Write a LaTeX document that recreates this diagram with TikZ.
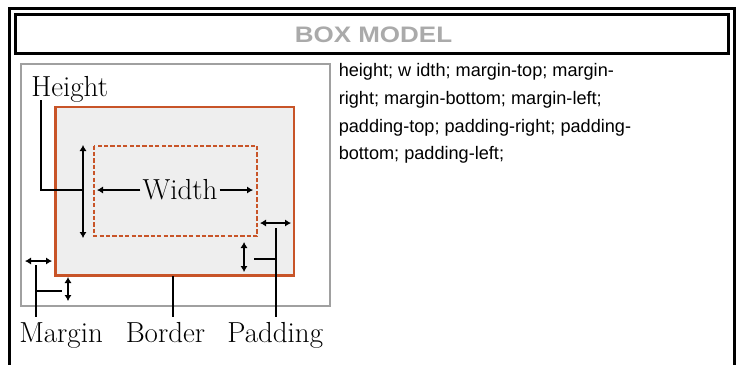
\documentclass[tikz,border=0pt]{standalone}
\usepackage{fontspec}
\newfontfamily\arialfont{Liberation Sans}
\usetikzlibrary{arrows.meta}
\definecolor{bordorange}{RGB}{200,84,40}
\definecolor{boxfill}{RGB}{238,238,238}
\definecolor{framegray}{RGB}{160,160,160}
\definecolor{titlegray}{RGB}{170,170,170}
\tikzset{
  frameline/.style={line width=2.25pt,draw=black},
  ln/.style={line width=1.5pt,draw=black},
  dbl/.style={ln,{Latex[length=4.5pt,width=5.5pt]}-{Latex[length=4.5pt,width=5.5pt]}},
  sarr/.style={ln,-{Latex[length=4.5pt,width=5.5pt]}},
  serlab/.style={font=\fontsize{21.75pt}{24pt}\selectfont\addfontfeature{FakeBold=0.6},inner sep=3pt},
  bodytext/.style={font=\arialfont\fontsize{13.6pt}{16pt}\selectfont,inner sep=0pt,anchor=base west}
}
\begin{document}
\begin{tikzpicture}[x=0.75pt,y=-0.75pt]
\useasboundingbox (0,0) rectangle (738,364);
% outer frame (open at the bottom)
\draw[frameline] (9.5,370) -- (9.5,8.5) -- (734,8.5) -- (734,370);
% title box
\draw[frameline] (15,14) rectangle (728,53);
\node[font=\arialfont\bfseries\fontsize{16.8pt}{18pt}\selectfont,text=titlegray] (title) at (373.5,34.5) {\scalebox{1.16}[1]{BOX MODEL}};
% left panel
\draw[line width=1.5pt,draw=framegray] (21,63.5) rectangle (330,306);
\draw[line width=1.7pt,draw=bordorange,fill=boxfill] (55.5,107) rectangle (294,275.5);
\draw[line width=1.5pt,draw=bordorange,dash pattern=on 3.2pt off 1.6pt] (94,145.5) rectangle (257,236);
% labels
\node[serlab,anchor=base west] (hgt) at (27,96) {Height};
\node[serlab,anchor=base,inner sep=1.5pt] (wd) at (180,199) {Width};
\node[serlab,anchor=base west,inner sep=0pt] (mg) at (19,342) {Margin};
\node[serlab,anchor=base west,inner sep=0pt] (bd) at (125.5,342) {Border};
\node[serlab,anchor=base west,inner sep=0pt] (pd) at (227,342) {Padding};
% coordinates
\coordinate (hA) at (83,145);
\coordinate (hB) at (83,238);
\coordinate (hJ) at (83,190);
\coordinate (wL) at (97,190);
\coordinate (wR) at (253,190);
\coordinate (prL) at (260,223);
\coordinate (prR) at (291,223);
\coordinate (pT) at (276,228);
\coordinate (pJ) at (276,259);
\coordinate (pbS) at (254,259);
\coordinate (pbA) at (244,242);
\coordinate (pbB) at (244,272);
\coordinate (mlL) at (25,261);
\coordinate (mlR) at (52,261);
\coordinate (mT) at (36,265);
\coordinate (mJ) at (36,291);
\coordinate (mbS) at (62,291);
\coordinate (mbA) at (68,277);
\coordinate (mbB) at (68,301);
\coordinate (bT) at (173,276);
\coordinate (mEnd) at (36,317);
\coordinate (bEnd) at (173,317);
\coordinate (pEnd) at (276,317);
\coordinate (hTop) at (41,100);
% height
\draw[dbl] (hA) -- (hB);
\draw[ln] (hTop) |- (hJ);
% width
\draw[sarr] (wd.west |- wL) -- (wL);
\draw[sarr] (wd.east |- wR) -- (wR);
% padding
\draw[dbl] (prL) -- (prR);
\draw[ln] (pT) -- (pEnd);
\draw[ln] (pbS) -- (pJ);
\draw[dbl] (pbA) -- (pbB);
% margin
\draw[dbl] (mlL) -- (mlR);
\draw[ln] (mT) -- (mEnd);
\draw[ln] (mJ) -- (mbS);
\draw[dbl] (mbA) -- (mbB);
% border
\draw[ln] (bT) -- (bEnd);
% body text
\node[bodytext] (t1) at (338.5,76.7) {height; w idth; margin-top; margin-};
\node[bodytext] (t2) at (338.5,104.3) {right; margin-bottom; margin-left;};
\node[bodytext] (t3) at (338.5,132) {padding-top; padding-right; padding-};
\node[bodytext] (t4) at (338.5,159.7) {bottom; padding-left;};
\end{tikzpicture}
\end{document}
